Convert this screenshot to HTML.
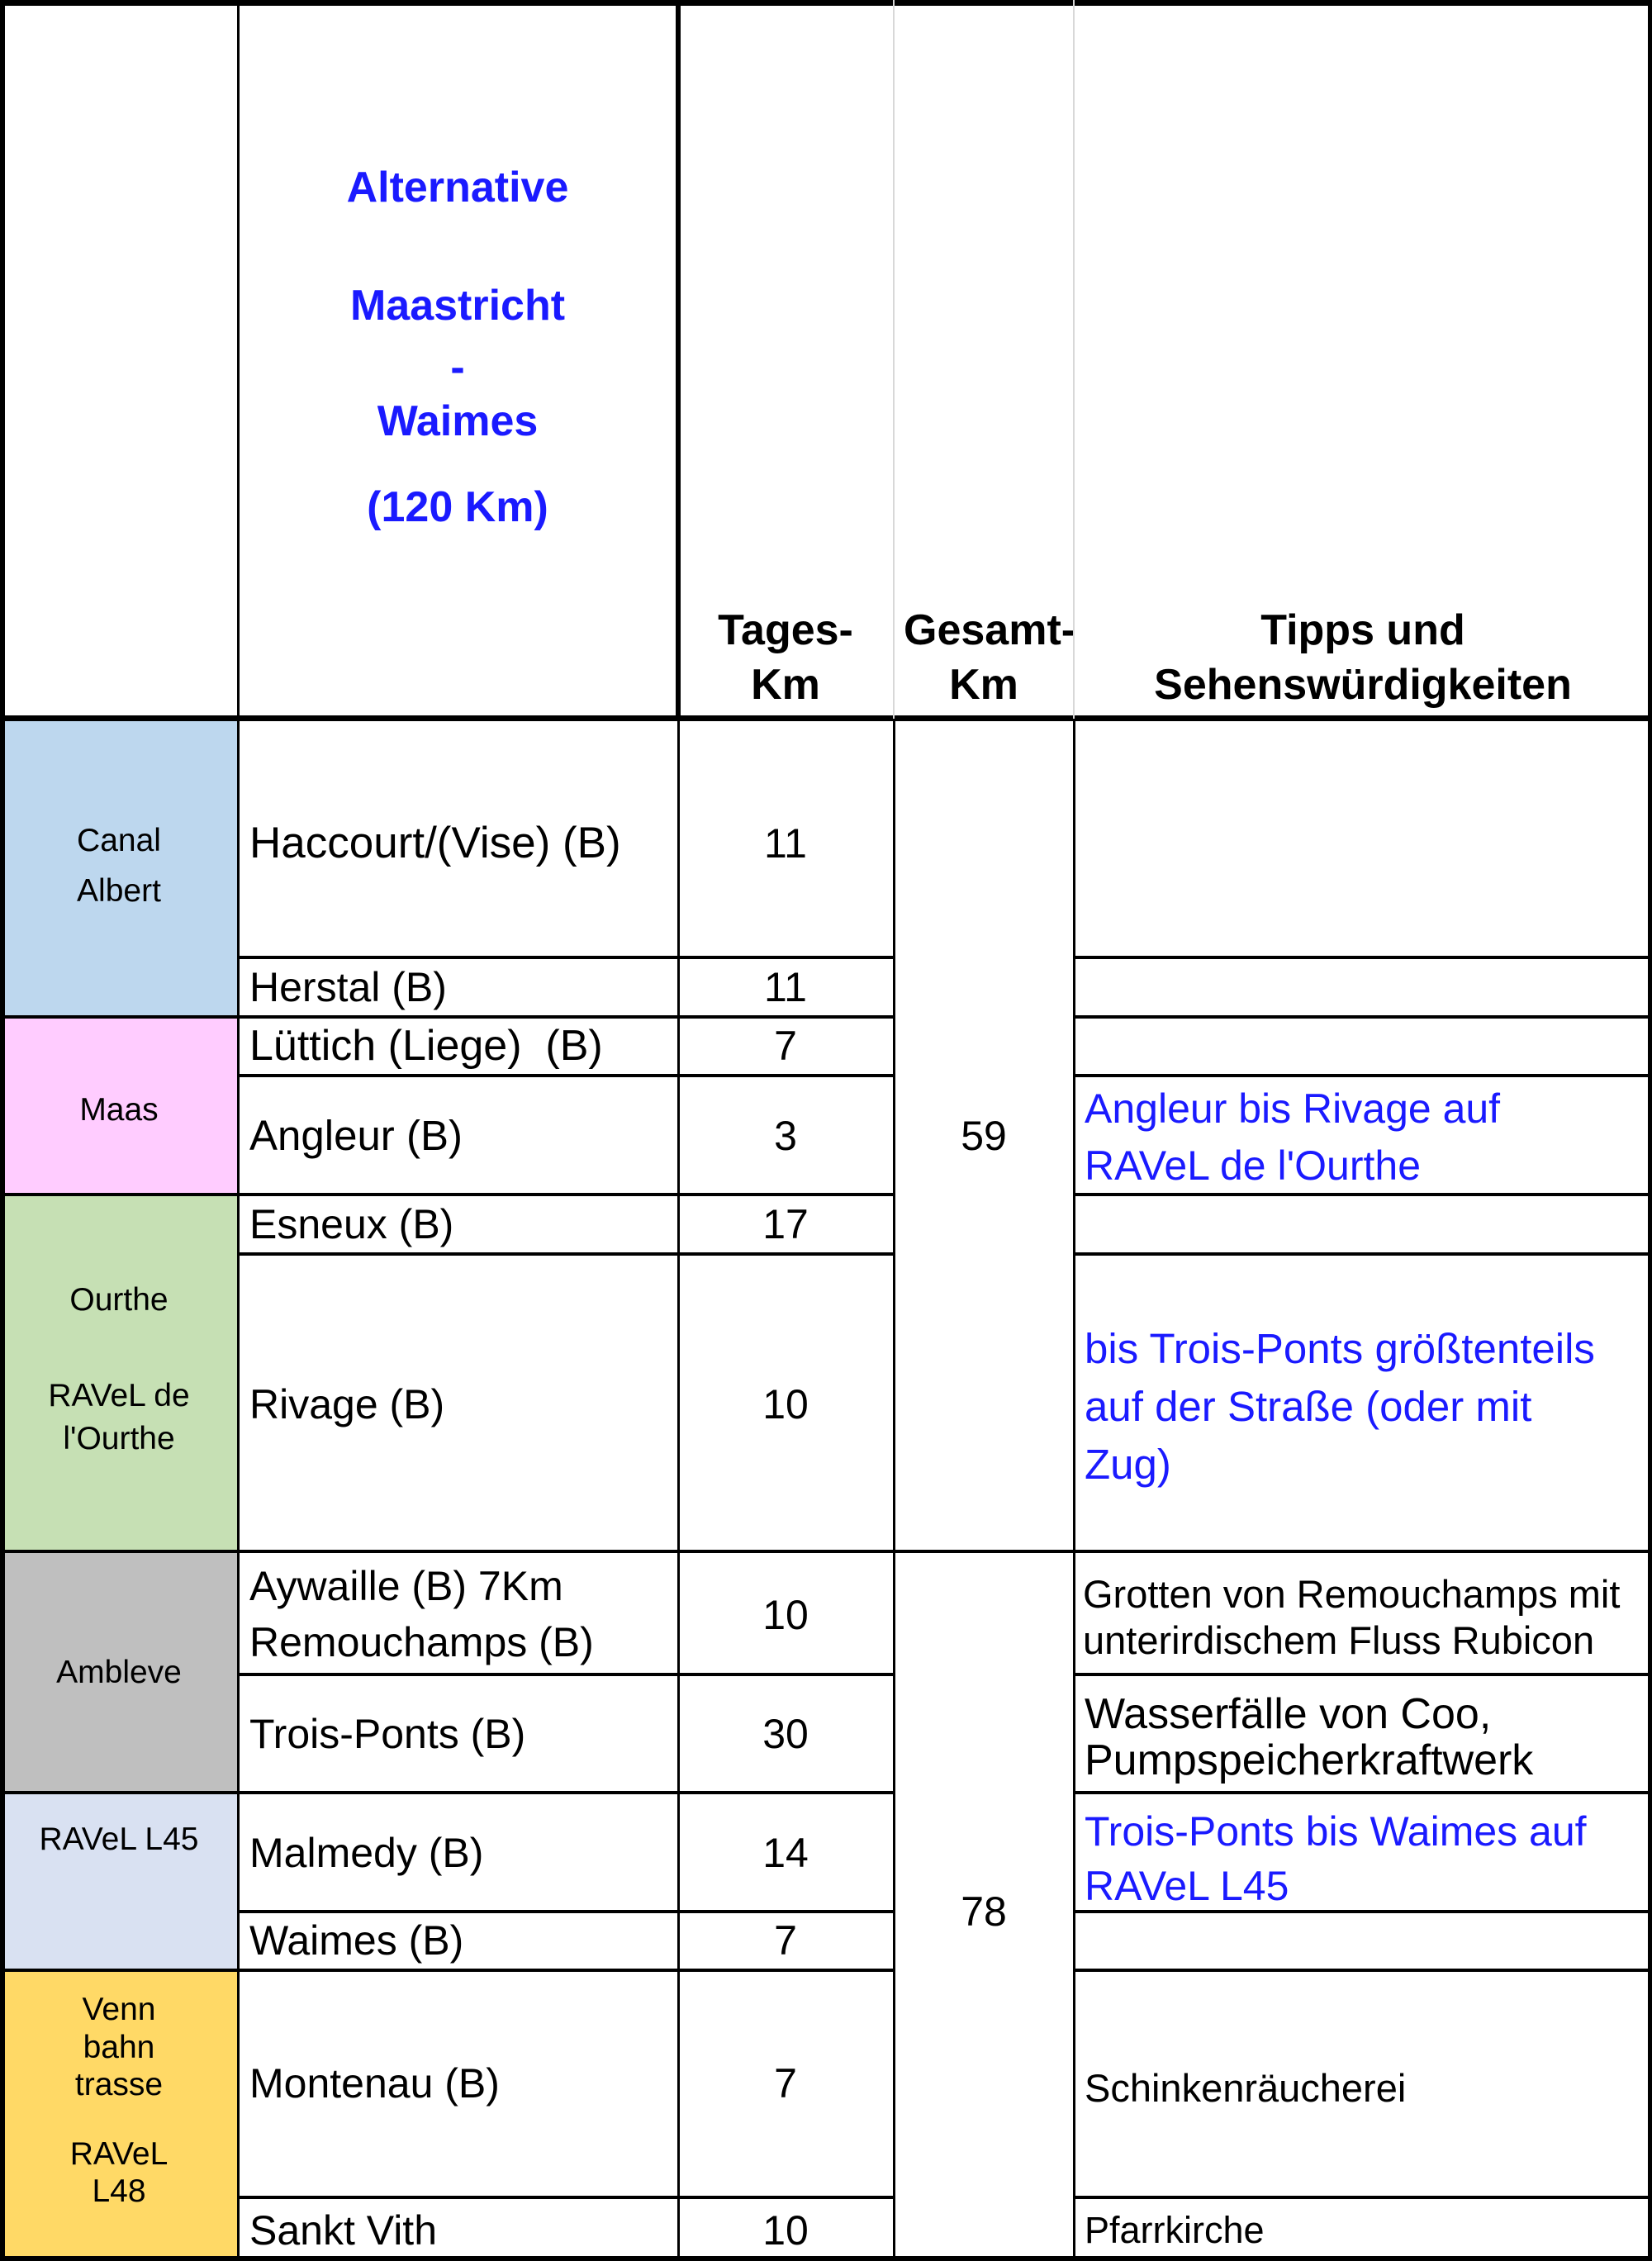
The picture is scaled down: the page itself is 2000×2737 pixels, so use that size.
<!DOCTYPE html>
<html><head><meta charset="utf-8"><style>
body{margin:0;width:2000px;height:2737px;background:#fff;position:relative;overflow:hidden;font-family:"Liberation Sans",Arial,sans-serif;}
.r{position:absolute;}
.t{position:absolute;white-space:nowrap;height:70px;line-height:70px;font-size:50px;color:#000;}
.c{text-align:center;}
.g{font-size:39px;}
.b{color:#1a1aff;}
.h{font-weight:bold;}
.hl{position:absolute;height:4px;background:#000;}
.vl{position:absolute;width:3px;background:#000;}
</style></head><body>
<div class="r" style="left:0;top:873px;width:288px;height:358px;background:#BDD7EE"></div>
<div class="r" style="left:0;top:1231px;width:288px;height:215px;background:#FFCCFF"></div>
<div class="r" style="left:0;top:1446px;width:288px;height:432px;background:#C6E0B4"></div>
<div class="r" style="left:0;top:1878px;width:288px;height:292px;background:#BFBFBF"></div>
<div class="r" style="left:0;top:2170px;width:288px;height:215px;background:#D9E1F2"></div>
<div class="r" style="left:0;top:2385px;width:288px;height:347px;background:#FFD966"></div>

<!-- header text (under lines) -->
<div class="t c h b" style="left:288px;width:532px;top:192px;font-size:52px">Alternative</div>
<div class="t c h b" style="left:288px;width:532px;top:335px;font-size:52px">Maastricht</div>
<div class="t c h b" style="left:288px;width:532px;top:410px;font-size:52px">-</div>
<div class="t c h b" style="left:288px;width:532px;top:475px;font-size:52px">Waimes</div>
<div class="t c h b" style="left:288px;width:532px;top:579px;font-size:52px">(120 Km)</div>
<div class="t c h" style="left:820px;width:262px;top:728px;font-size:52px">Tages-</div>
<div class="t c h" style="left:820px;width:262px;top:794px;font-size:52px">Km</div>
<div class="t h" style="left:1094px;top:728px;font-size:52px">Gesamt-</div>
<div class="r" style="left:1301px;top:720px;width:40px;height:80px;background:#fff"></div>
<div class="t c h" style="left:1082px;width:218px;top:794px;font-size:52px">Km</div>
<div class="t c h" style="left:1300px;width:700px;top:728px;font-size:52px">Tipps und</div>
<div class="t c h" style="left:1300px;width:700px;top:794px;font-size:52px">Sehenswürdigkeiten</div>

<div class="hl" style="left:0;top:0;width:2000px;height:7px"></div>
<div class="hl" style="left:0;top:2731px;width:2000px;height:6px"></div>
<div class="vl" style="left:0;top:0;height:2737px;width:6px"></div>
<div class="vl" style="left:1995px;top:0;height:2737px;width:5px"></div>
<div class="hl" style="left:0;top:866px;width:2000px;height:7px"></div>
<div class="vl" style="left:287px;top:0;height:2737px"></div>
<div class="vl" style="left:818px;top:0;height:870px;width:6px"></div>
<div class="vl" style="left:820px;top:870px;height:1867px"></div>
<div class="vl" style="left:1081px;top:0;height:870px;width:2px;background:#d8d8d8"></div>
<div class="vl" style="left:1299px;top:0;height:870px;width:2px;background:#d8d8d8"></div>
<div class="vl" style="left:1081px;top:870px;height:1867px"></div>
<div class="vl" style="left:1299px;top:870px;height:1867px"></div>

<div class="hl" style="left:288px;top:1157px;width:794px"></div><div class="hl" style="left:1300px;top:1157px;width:700px"></div>
<div class="hl" style="left:0;top:1229px;width:1082px"></div><div class="hl" style="left:1300px;top:1229px;width:700px"></div>
<div class="hl" style="left:288px;top:1300px;width:794px"></div><div class="hl" style="left:1300px;top:1300px;width:700px"></div>
<div class="hl" style="left:0;top:1444px;width:1082px"></div><div class="hl" style="left:1300px;top:1444px;width:700px"></div>
<div class="hl" style="left:288px;top:1516px;width:794px"></div><div class="hl" style="left:1300px;top:1516px;width:700px"></div>
<div class="hl" style="left:0;top:1876px;width:2000px"></div>
<div class="hl" style="left:288px;top:2025px;width:794px"></div><div class="hl" style="left:1300px;top:2025px;width:700px"></div>
<div class="hl" style="left:0;top:2168px;width:1082px"></div><div class="hl" style="left:1300px;top:2168px;width:700px"></div>
<div class="hl" style="left:288px;top:2312px;width:794px"></div><div class="hl" style="left:1300px;top:2312px;width:700px"></div>
<div class="hl" style="left:0;top:2383px;width:1082px"></div><div class="hl" style="left:1300px;top:2383px;width:700px"></div>
<div class="hl" style="left:288px;top:2658px;width:794px"></div><div class="hl" style="left:1300px;top:2658px;width:700px"></div>

<div class="t c g" style="left:0;width:288px;top:983px">Canal</div>
<div class="t c g" style="left:0;width:288px;top:1044px">Albert</div>
<div class="t c g" style="left:0;width:288px;top:1309px">Maas</div>
<div class="t c g" style="left:0;width:288px;top:1539px">Ourthe</div>
<div class="t c g" style="left:0;width:288px;top:1655px">RAVeL de</div>
<div class="t c g" style="left:0;width:288px;top:1707px">l'Ourthe</div>
<div class="t c g" style="left:0;width:288px;top:1990px">Ambleve</div>
<div class="t c g" style="left:0;width:288px;top:2192px">RAVeL L45</div>
<div class="t c g" style="left:0;width:288px;top:2398px">Venn</div>
<div class="t c g" style="left:0;width:288px;top:2444px">bahn</div>
<div class="t c g" style="left:0;width:288px;top:2489px">trasse</div>
<div class="t c g" style="left:0;width:288px;top:2573px">RAVeL</div>
<div class="t c g" style="left:0;width:288px;top:2618px">L48</div>

<div class="t" style="left:302px;top:986px;font-size:53px">Haccourt/(Vise) (B)</div>
<div class="t" style="left:302px;top:1160px">Herstal (B)</div>
<div class="t" style="left:302px;top:1231px;font-size:52px">Lüttich (Liege)&nbsp;&nbsp;(B)</div>
<div class="t" style="left:302px;top:1340px;font-size:51px">Angleur (B)</div>
<div class="t" style="left:302px;top:1447px">Esneux (B)</div>
<div class="t" style="left:302px;top:1665px">Rivage (B)</div>
<div class="t" style="left:302px;top:1885px">Aywaille (B) 7Km</div>
<div class="t" style="left:302px;top:1953px">Remouchamps (B)</div>
<div class="t" style="left:302px;top:2064px">Trois-Ponts (B)</div>
<div class="t" style="left:302px;top:2208px">Malmedy (B)</div>
<div class="t" style="left:302px;top:2314px">Waimes (B)</div>
<div class="t" style="left:302px;top:2487px">Montenau (B)</div>
<div class="t" style="left:302px;top:2665px">Sankt Vith</div>

<div class="t c" style="left:820px;width:262px;top:986px">11</div>
<div class="t c" style="left:820px;width:262px;top:1160px">11</div>
<div class="t c" style="left:820px;width:262px;top:1231px">7</div>
<div class="t c" style="left:820px;width:262px;top:1340px">3</div>
<div class="t c" style="left:820px;width:262px;top:1447px">17</div>
<div class="t c" style="left:820px;width:262px;top:1665px">10</div>
<div class="t c" style="left:820px;width:262px;top:1920px">10</div>
<div class="t c" style="left:820px;width:262px;top:2064px">30</div>
<div class="t c" style="left:820px;width:262px;top:2208px">14</div>
<div class="t c" style="left:820px;width:262px;top:2314px">7</div>
<div class="t c" style="left:820px;width:262px;top:2487px">7</div>
<div class="t c" style="left:820px;width:262px;top:2665px">10</div>

<div class="t c" style="left:1082px;width:218px;top:1340px">59</div>
<div class="t c" style="left:1082px;width:218px;top:2279px">78</div>

<div class="t b" style="left:1313px;top:1307px">Angleur bis Rivage auf</div>
<div class="t b" style="left:1313px;top:1376px">RAVeL de l'Ourthe</div>
<div class="t b" style="left:1313px;top:1598px;font-size:51px">bis Trois-Ponts größtenteils</div>
<div class="t b" style="left:1313px;top:1668px;font-size:51px">auf der Straße (oder mit</div>
<div class="t b" style="left:1313px;top:1738px;font-size:51px">Zug)</div>
<div class="t" style="left:1311px;top:1895px;font-size:47px">Grotten von Remouchamps mit</div>
<div class="t" style="left:1311px;top:1951px;font-size:47px">unterirdischem Fluss Rubicon</div>
<div class="t" style="left:1313px;top:2040px;font-size:52px">Wasserfälle von Coo,</div>
<div class="t" style="left:1313px;top:2096px;font-size:52px">Pumpspeicherkraftwerk</div>
<div class="t b" style="left:1313px;top:2182px">Trois-Ponts bis Waimes auf</div>
<div class="t b" style="left:1313px;top:2248px">RAVeL L45</div>
<div class="t" style="left:1313px;top:2493px;font-size:47px">Schinkenräucherei</div>
<div class="t" style="left:1313px;top:2665px;font-size:45px">Pfarrkirche</div>
</body></html>
